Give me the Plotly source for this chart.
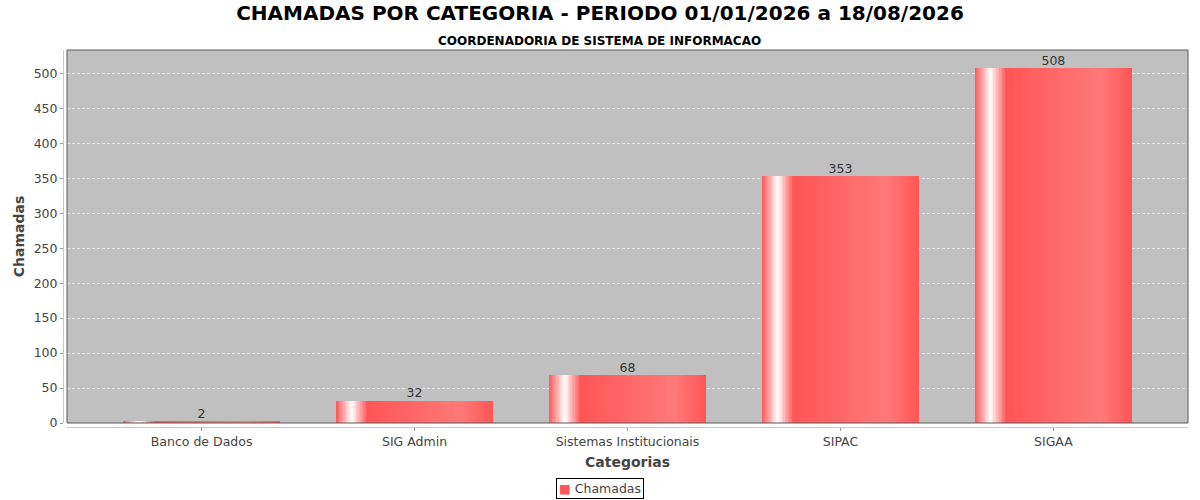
import plotly.graph_objects as go

# dados
categorias = ["Banco de Dados", "SIG Admin", "Sistemas Institucionais", "SIPAC", "SIGAA"]
chamadas = [2, 32, 68, 353, 508]
titulo = "CHAMADAS POR CATEGORIA - PERIODO 01/01/2026 a 18/08/2026"
subtitulo = "COORDENADORIA DE SISTEMA DE INFORMACAO"

# cores estilo JFreeChart (gradiente horizontal)
c0 = (255, 85, 85)
c1 = (255, 121, 121)
branco = (255, 255, 255)


def mix(a, b, t):
    return tuple(round(a[i] + (b[i] - a[i]) * t) for i in range(3))


def cor_gradiente(t):
    if t < 0.1:
        c = mix(c0, branco, t / 0.1)
    elif t < 0.2:
        c = mix(branco, c0, (t - 0.1) / 0.1)
    elif t < 0.8:
        c = mix(c0, c1, (t - 0.2) / 0.6)
    else:
        c = mix(c1, c0, (t - 0.8) / 0.2)
    return "rgb(%d,%d,%d)" % c


fig = go.Figure()

largura = 0.737
n = 110
passo = largura / n
for i in range(n):
    esq = -largura / 2 + i * passo
    w = min(passo * 1.8, largura / 2 - esq)
    fig.add_trace(go.Bar(
        x=categorias, y=chamadas,
        offset=esq, width=w,
        marker=dict(color=cor_gradiente((i + 0.5) / n), line=dict(width=0)),
        showlegend=False, hoverinfo="skip",
    ))

# rotulos de valor
fig.add_trace(go.Scatter(
    x=categorias, y=chamadas, mode="text",
    text=[str(v) for v in chamadas], textposition="top center",
    textfont=dict(family="DejaVu Sans", size=12.5, color="#333333"),
    showlegend=False, hoverinfo="skip",
))

fig.add_shape(type="rect", xref="x domain", yref="y domain",
              x0=0, x1=1, y0=0, y1=1, line=dict(color="#5a5a5a", width=1))

fig.add_annotation(text=subtitulo, xref="paper", yref="paper", x=0.4773, y=1.048,
                   showarrow=False, font=dict(family="DejaVu Sans", size=12, color="#000000", weight="bold"))

fig.add_annotation(text='<span style="color:#FF5555">■</span> Chamadas', xref="paper", yref="paper",
                   x=0.4773, y=-0.19, showarrow=False, bordercolor="#000000", borderwidth=1, borderpad=2,
                   font=dict(family="DejaVu Sans", size=12.5, color="#444444"))

fig.update_layout(
    width=1200, height=500,
    margin=dict(l=63, r=12, t=50, b=73),
    paper_bgcolor="white", plot_bgcolor="#C0C0C0",
    barmode="overlay", bargap=0,
    title=dict(text=titulo, x=0.5, xref="container", y=0.974, yref="container", yanchor="middle",
               font=dict(family="DejaVu Sans", size=20, color="#000000", weight="bold")),
    font=dict(family="DejaVu Sans", size=12, color="#444444"),
    xaxis=dict(
        domain=[4 / 1125, 1], anchor="free", position=0,
        range=[-0.632, 4.632], showgrid=False,
        showline=True, linecolor="#C8C8C8", linewidth=1,
        ticks="outside", ticklen=3, tickcolor="#999999",
        tickfont=dict(size=12.5, color="#444444"),
        title=dict(text="Categorias", standoff=9,
                   font=dict(size=14, color="#444444", weight="bold")),
    ),
    yaxis=dict(
        domain=[4 / 377, 1], anchor="free", position=0,
        range=[0, 533.4], dtick=50, zeroline=False,
        showgrid=True, gridcolor="#E6E6E6", griddash="3px,2px", gridwidth=1,
        showline=True, linecolor="#C8C8C8", linewidth=1,
        ticks="outside", ticklen=3, tickcolor="#999999",
        tickfont=dict(size=12.5, color="#444444"),
        title=dict(text="Chamadas", standoff=4,
                   font=dict(size=14, color="#444444", weight="bold")),
    ),
)

fig.write_html("out.html", config={"displayModeBar": False},
               post_script="document.body.style.margin='0';")
